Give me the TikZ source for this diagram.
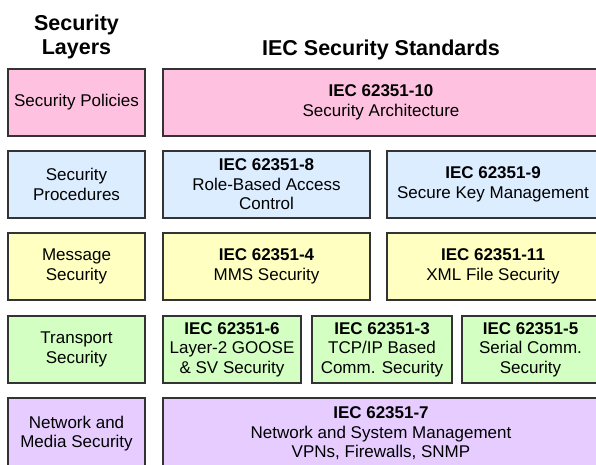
\documentclass[tikz,border=0pt]{standalone}
\usepackage{fontspec}
\setmainfont{Liberation Sans}
\definecolor{pinkF}{RGB}{255,193,224}
\definecolor{blueF}{RGB}{219,237,255}
\definecolor{yellowF}{RGB}{255,255,194}
\definecolor{greenF}{RGB}{212,255,194}
\definecolor{purpleF}{RGB}{231,205,255}
\definecolor{bordc}{RGB}{51,51,51}
\begin{document}
\begin{tikzpicture}[x=1pt,y=-1pt,
  box/.style={draw=bordc, line width=1.5pt, inner sep=0pt, align=center,
    font=\fontsize{17}{19.5}\selectfont, text=black, minimum height=67pt},
  hdr/.style={font=\bfseries\fontsize{21.5}{23.5}\selectfont, align=center, inner sep=0pt}]
\useasboundingbox (0,0) rectangle (596,464);
\fill[white] (0,0) rectangle (596,464);
\clip (0,0) rectangle (596,464);
% headers
\node[hdr] (hl) at (76.5,36.8) {Security\\Layers};
\node[hdr, anchor=base] (hr) at (381,55) {IEC Security Standards};
% row 1
\node[box, fill=pinkF, minimum width=137pt] (l1) at (76.5,102.5) {Security Policies};
\node[box, fill=pinkF, minimum width=436pt] (r1) at (381,102.5) {\textbf{IEC 62351-10}\\Security Architecture};
% row 2
\node[box, fill=blueF, minimum width=137pt] (l2) at (76.5,184.5) {Security\\Procedures};
\node[box, fill=blueF, minimum width=207pt] (r2a) at (266.5,184.5) {\textbf{IEC 62351-8}\\Role-Based Access\\Control};
\node[box, fill=blueF, minimum width=212pt] (r2b) at (493,184.5) {\textbf{IEC 62351-9}\\Secure Key Management};
% row 3
\node[box, fill=yellowF, minimum width=137pt] (l3) at (76.5,266.5) {Message\\Security};
\node[box, fill=yellowF, minimum width=207pt] (r3a) at (266.5,266.5) {\textbf{IEC 62351-4}\\MMS Security};
\node[box, fill=yellowF, minimum width=212pt] (r3b) at (493,266.5) {\textbf{IEC 62351-11}\\XML File Security};
% row 4
\node[box, fill=greenF, minimum width=137pt] (l4) at (76.5,349.5) {Transport\\Security};
\node[box, fill=greenF, minimum width=138pt] (r4a) at (232,349.5) {\textbf{IEC 62351-6}\\Layer-2 GOOSE\\\& SV Security};
\node[box, fill=greenF, minimum width=140pt] (r4b) at (382,349.5) {\textbf{IEC 62351-3}\\TCP/IP Based\\Comm. Security};
\node[box, fill=greenF, minimum width=137pt] (r4c) at (530.5,349.5) {\textbf{IEC 62351-5}\\Serial Comm.\\Security};
% row 5
\node[box, fill=purpleF, minimum width=137pt, minimum height=71pt] (l5) at (76.5,433.5) {Network and\\Media Security};
\node[box, fill=purpleF, minimum width=436pt, minimum height=71pt] (r5) at (381,433.5) {\textbf{IEC 62351-7}\\Network and System Management\\VPNs, Firewalls, SNMP};
\end{tikzpicture}
\end{document}
